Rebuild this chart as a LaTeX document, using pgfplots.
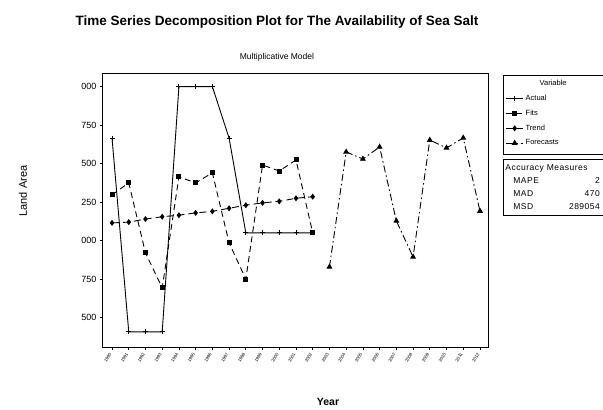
\documentclass[border=0pt]{standalone}
\usepackage{fontspec}
\setmainfont{Liberation Sans}
\usepackage{pgfplots}
\pgfplotsset{compat=1.18}
\begin{document}
\begin{tikzpicture}[x=1pt,y=1pt]
\begin{axis}[
  name=ax, scale only axis,
  width=385pt, height=273pt,
  xmin=0.46, xmax=23.48, ymin=9309, ymax=11082,
  xtick={1,...,23},
  xticklabels={1990,1991,1992,1993,1994,1995,1996,1997,1998,1999,2000,2001,2002,2003,2004,2005,2006,2007,2008,2009,2010,2011,2012},
  ytick={9500,9750,10000,10250,10500,10750,11000},
  yticklabels={500,750,000,250,500,750,000},
  scaled y ticks=false,
  tick align=outside, major tick length=3pt,
  tick style={black, line width=0.8pt},
  axis line style={line width=1pt},
  xtick pos=lower, ytick pos=left,
  y tick label style={font=\fontsize{9}{10}\selectfont},
  x tick label style={font=\fontsize{4.5}{5}\selectfont, rotate=60, anchor=east},
  legend style={at={(1.039,0.995)}, anchor=north west,
    font=\fontsize{7.5}{9}\selectfont, draw=none, fill=none,
    row sep=4pt, inner sep=2.5pt},
  legend cell align=left,
]
\addlegendimage{empty legend}
\addlegendentry{\hspace{14pt}Variable}
% Actual
\addplot[black, line width=0.9pt, mark=+, mark size=2.5pt] coordinates {
(1,10665) (2,9407) (3,9407) (4,9407) (5,11000) (6,11000) (7,11000)
(8,10665) (9,10050) (10,10050) (11,10050) (12,10050) (13,10050)};
\addlegendentry{Actual}
% Fits
\addplot[black, line width=0.9pt, dash pattern=on 6pt off 4pt, mark=square*, mark size=2pt, mark options={solid}] coordinates {
(1,10297) (2,10375) (3,9920) (4,9693) (5,10414) (6,10375) (7,10440)
(8,9985) (9,9750) (10,10491) (11,10452) (12,10524) (13,10050)};
\addlegendentry{Fits}
% Trend
\addplot[black, line width=0.9pt, dash pattern=on 7pt off 4pt, mark=diamond*, mark size=2.3pt, mark options={solid}] coordinates {
(1,10115) (2,10120) (3,10140) (4,10155) (5,10165) (6,10180) (7,10190)
(8,10210) (9,10230) (10,10245) (11,10255) (12,10275) (13,10285)};
\addlegendentry{Trend}
% Forecasts
\addplot[black, line width=0.9pt, dash pattern=on 7pt off 3pt on 1.5pt off 3pt, mark=triangle*, mark size=2.6pt, mark options={solid}] coordinates {
(14,9829) (15,10576) (16,10530) (17,10608) (18,10128) (19,9894)
(20,10653) (21,10602) (22,10667) (23,10192)};
\addlegendentry{Forecasts}
\end{axis}
\draw[line width=0.8pt] (400,272) rectangle (515,193);
\node[font=\bfseries\fontsize{13.5}{15}\selectfont] at (174,325) {Time Series Decomposition Plot for The Availability of Sea Salt};
\node[font=\fontsize{8.5}{10}\selectfont] at (174,290) {Multiplicative Model};
\node[rotate=90, font=\fontsize{11}{12}\selectfont] at (-80,156) {Land Area};
\node[font=\bfseries\fontsize{10.5}{12}\selectfont] at (225,-55) {Year};
\node[draw, line width=0.8pt, anchor=north west, inner sep=2pt,
  font=\fontsize{8.5}{10}\selectfont\addfontfeature{LetterSpace=6}] at (400,188) {%
  \renewcommand{\arraystretch}{1.3}%
  \begin{tabular}{@{}l@{\hspace{30pt}}r@{\hspace{10pt}}}
  \multicolumn{2}{@{}l@{}}{Accuracy Measures}\\
  \hspace{8pt}MAPE & 2\\
  \hspace{8pt}MAD & 470\\
  \hspace{8pt}MSD & 289054
  \end{tabular}};
\pgfresetboundingbox
\path[use as bounding box] (-103,-63) rectangle (500,347);
\end{tikzpicture}
\end{document}
